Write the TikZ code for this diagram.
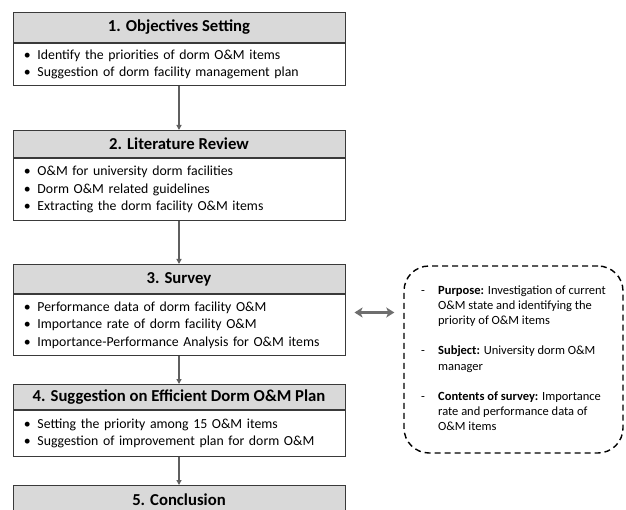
\documentclass[tikz,border=0pt]{standalone}
\usepackage{fontspec}
\setmainfont{Carlito}
\usetikzlibrary{arrows.meta,calc}
\definecolor{hdfill}{HTML}{D9D9D9}
\definecolor{boxline}{HTML}{3A3A3A}
\definecolor{arrowgray}{HTML}{5F5F5F}
\definecolor{biarrowgray}{HTML}{6E6E6E}
\newcommand{\bul}{\makebox[14.5pt][l]{\hspace{1pt}\textbullet}}
\begin{document}
\begin{tikzpicture}[x=1pt,y=-1pt,
 hd/.style={draw=boxline, fill=hdfill, line width=1pt, minimum width=332pt, inner sep=0pt, anchor=north, font=\fontsize{16.7}{19}\selectfont\bfseries},
 bd/.style={draw=boxline, fill=white, line width=1pt, text width=312pt, inner xsep=10pt, inner ysep=0pt, anchor=north, align=left, font=\fontsize{13.8}{17.5}\selectfont},
 flow/.style={draw=arrowgray, line width=1.2pt, -{Triangle[length=5pt,width=5pt]}},
 biarrow/.style={draw=biarrowgray, line width=2.3pt, {Stealth[length=8pt,width=10pt,inset=2pt]}-{Stealth[length=8pt,width=10pt,inset=2pt]}},
 infobox/.style={draw=black, line width=1.4pt, dash pattern=on 6pt off 4pt, rounded corners=25pt, minimum width=219pt, minimum height=187pt, inner sep=0pt, font=\fontsize{12.5}{15}\selectfont},
]
\useasboundingbox (0,0) rectangle (626,510);
\clip (0,0) rectangle (626,510);

\node[hd, minimum height=30pt] (h1) at (179,12) {1. Objectives Setting};
\node[bd, minimum height=42pt] (b1) at (h1.south) {\bul Identify the priorities of dorm O\&M items\\ \bul Suggestion of dorm facility management plan};

\node[hd, minimum height=27pt] (h2) at (179,130) {2. Literature Review};
\node[bd, minimum height=62pt] (b2) at (h2.south) {\bul O\&M for university dorm facilities\\ \bul Dorm O\&M related guidelines\\ \bul Extracting the dorm facility O\&M items};

\node[hd, minimum height=29pt] (h3) at (179,264) {3. Survey};
\node[bd, minimum height=61pt] (b3) at (h3.south) {\bul Performance data of dorm facility O\&M\\ \bul Importance rate of dorm facility O\&M\\ \bul Importance-Performance Analysis for O\&M items};

\node[hd, minimum height=25pt] (h4) at (179,384) {4. Suggestion on Efficient Dorm O\&M Plan};
\node[bd, minimum height=46pt] (b4) at (h4.south) {\bul Setting the priority among 15 O\&M items\\ \bul Suggestion of improvement plan for dorm O\&M};

\node[hd, minimum height=28pt] (h5) at (179,485) {5. Conclusion};

\draw[flow] (b1.south) -- (h2.north);
\draw[flow] (b2.south) -- (h3.north);
\draw[flow] (b3.south) -- (h4.north);
\draw[flow] (b4.south) -- (h5.north);

\node[infobox] (info) at (513.5,359.5) {%
\begin{tabular}{@{}p{17pt}@{}l@{}}
- & \textbf{Purpose:} Investigation of current\\
  & O\&M state and identifying the\\
  & priority of O\&M items\\
  & \\
- & \textbf{Subject:} University dorm O\&M\\
  & manager\\
  & \\
- & \textbf{Contents of survey:} Importance\\
  & rate and performance data of\\
  & O\&M items
\end{tabular}};

\draw[biarrow] ($(b3.east)+(9,-12.5)$) -- ($(info.west |- b3.east)+(-9,-12.5)$);
\end{tikzpicture}
\end{document}
